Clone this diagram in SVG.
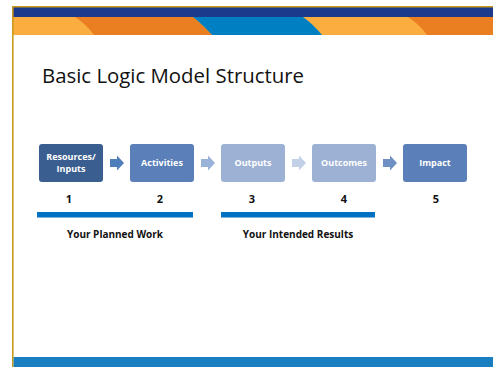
<svg xmlns="http://www.w3.org/2000/svg" width="493" height="367" viewBox="0 0 493 367">
<style>
.box text{font-family:"Open Sans","Liberation Sans",sans-serif;font-weight:bold;font-size:9px;fill:#fff;text-anchor:middle}
.num{font-family:"Open Sans","Liberation Sans",sans-serif;font-weight:bold;font-size:11px;fill:#111;text-anchor:middle}
.lbl{font-family:"Open Sans","Liberation Sans",sans-serif;font-weight:bold;font-size:10px;fill:#111;text-anchor:middle}
.bar{fill:#0070C0}
</style>
<rect width="493" height="367" fill="#fff"/>
<!-- header bands -->
<rect x="12" y="7" width="481" height="10" fill="#1B3A8C"/>
<rect x="12" y="17" width="481" height="18" fill="#FBAE3F"/>
<path d="M75,17 Q86,24 94,35 L212,35 Q202,24 193,17 Z" fill="#EA7F22"/>
<path d="M193,17 Q202,24 212,35 L322,35 Q313,24 303,17 Z" fill="#0080C3"/>
<path d="M408,17 Q419,24 427,35 L493,35 L493,17 Z" fill="#EA7F22"/>
<!-- gold frame -->
<path d="M12.8,367 L12.8,6.8 L493,6.8" fill="none" stroke="#C99A1E" stroke-width="1.6"/>
<!-- footer band -->
<rect x="13.6" y="357" width="480" height="10" fill="#1A7FC1"/>
<!-- title -->
<text x="42" y="83" font-family="Open Sans, Liberation Sans, sans-serif" font-size="20" textLength="262" lengthAdjust="spacingAndGlyphs" fill="#111">Basic Logic Model Structure</text>
<!-- nodes -->
<g id="resources" class="box">
<rect x="39" y="144" width="64" height="38" rx="3" fill="#3A5E8F"/>
<text x="71" y="160">Resources/</text>
<text x="71" y="172">Inputs</text>
</g>
<g id="activities" class="box">
<rect x="130" y="144" width="64" height="38" rx="3" fill="#5B80B9"/>
<text x="162" y="166">Activities</text>
</g>
<g id="outputs" class="box">
<rect x="221" y="144" width="64" height="38" rx="3" fill="#9DB1D4"/>
<text x="253" y="166">Outputs</text>
</g>
<g id="outcomes" class="box">
<rect x="312" y="144" width="64" height="38" rx="3" fill="#9DB1D4"/>
<text x="344" y="166">Outcomes</text>
</g>
<g id="impact" class="box">
<rect x="403" y="144" width="64" height="38" rx="3" fill="#5B80B9"/>
<text x="435" y="166">Impact</text>
</g>
<!-- connectors -->
<g id="connectors">
<path d="M110,159 h7 v-3.5 l7,7.5 l-7,7.5 v-3.5 h-7 Z" fill="#4F7FBA"/>
<path d="M201,159 h7 v-3.5 l7,7.5 l-7,7.5 v-3.5 h-7 Z" fill="#98B2D9"/>
<path d="M292,159 h7 v-3.5 l7,7.5 l-7,7.5 v-3.5 h-7 Z" fill="#C3D1E8"/>
<path d="M383,159 h7 v-3.5 l7,7.5 l-7,7.5 v-3.5 h-7 Z" fill="#6E90C4"/>
</g>
<!-- numbers -->
<text class="num" x="69" y="203">1</text>
<text class="num" x="160" y="203">2</text>
<text class="num" x="252" y="203">3</text>
<text class="num" x="344" y="203">4</text>
<text class="num" x="436" y="203">5</text>
<!-- group bars -->
<rect class="bar" x="37" y="212" width="156" height="5.5"/>
<rect class="bar" x="221" y="212" width="154" height="5.5"/>
<text class="lbl" x="115" y="238">Your Planned Work</text>
<text class="lbl" x="298" y="238">Your Intended Results</text>
</svg>
